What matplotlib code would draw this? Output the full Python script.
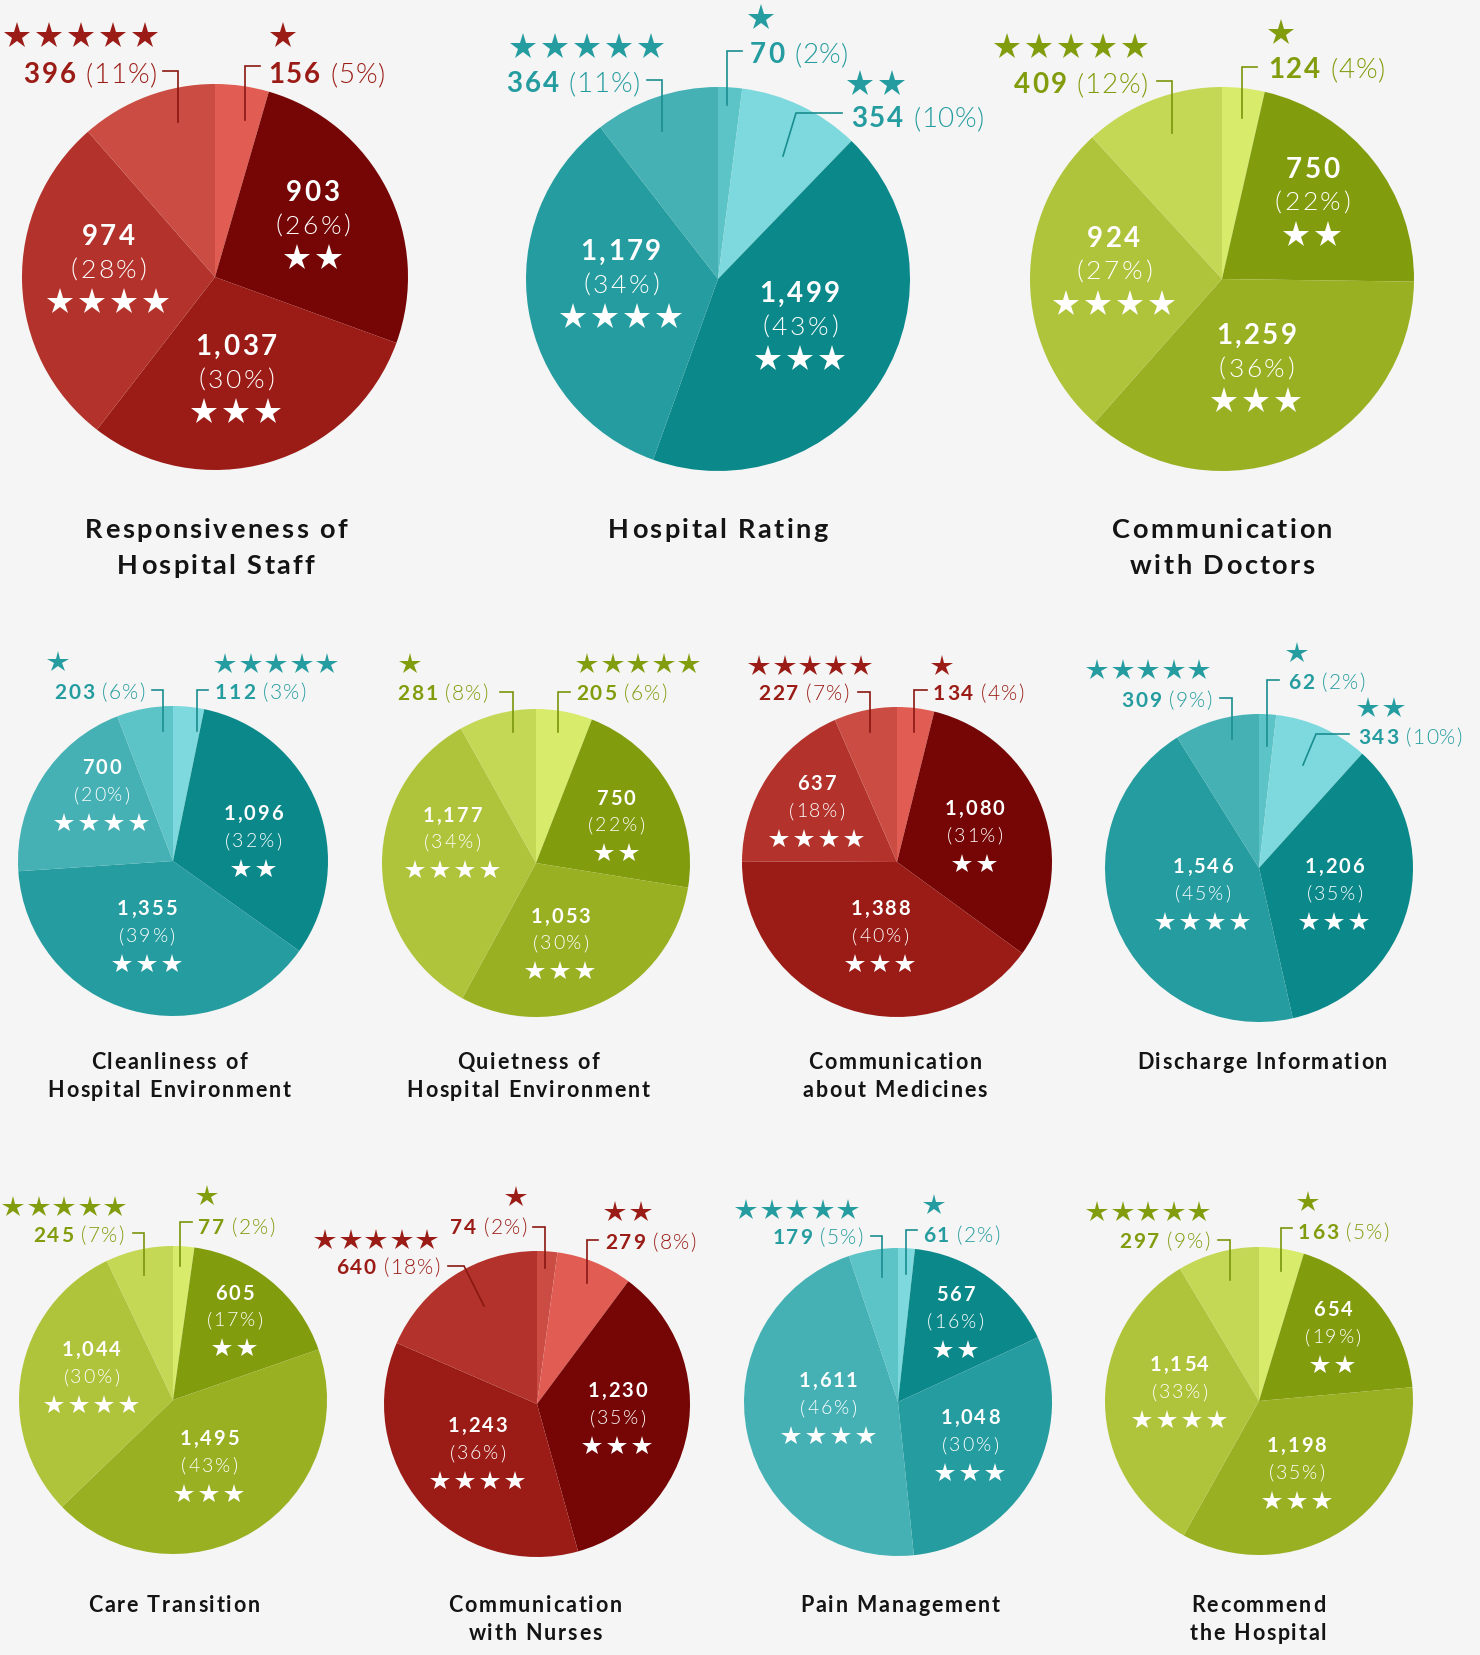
import matplotlib
matplotlib.use("Agg")
import matplotlib.pyplot as plt
from matplotlib import font_manager as fm
from matplotlib.ft2font import FT2Font
import numpy as np

W, H = 1480, 1656
BG = "#f4f5f4"
FONT = "Lato"

# ---------------- data (counts per slice, clockwise from 12 o'clock) ----------------
responsiveness = [156, 903, 1037, 974, 396]
hospital_rating = [70, 354, 1499, 1179, 364]
comm_doctors = [124, 750, 1259, 924, 409]
cleanliness = [112, 1096, 1355, 700, 203]
quietness = [205, 750, 1053, 1177, 281]
comm_medicines = [134, 1080, 1388, 637, 227]
discharge = [62, 343, 1206, 1546, 309]
care_transition = [77, 605, 1495, 1044, 245]
comm_nurses = [74, 279, 1230, 1243, 640]
pain_mgmt = [61, 567, 1048, 1611, 179]
recommend = [163, 654, 1198, 1154, 297]

# number of stars shown with each slice's label
stars_std = [1, 2, 3, 4, 5]
stars_swapped = [5, 2, 3, 4, 1]

titles = [
    ["Responsiveness of", "Hospital Staff"],
    ["Hospital Rating"],
    ["Communication", "with Doctors"],
    ["Cleanliness of", "Hospital Environment"],
    ["Quietness of", "Hospital Environment"],
    ["Communication", "about Medicines"],
    ["Discharge Information"],
    ["Care Transition"],
    ["Communication", "with Nurses"],
    ["Pain Management"],
    ["Recommend", "the Hospital"],
]

# ---------------- styles ----------------
RED = dict(text="#9b1c16", line="#8a1712",
           c=dict(L="#e15d54", D="#760505", M="#9b1c16", B="#b3332c", S="#cb4c42"))
TEAL = dict(text="#259c9f", line="#1a8d90",
            c=dict(L="#5cc3c6", D="#7dd9dd", M="#0b888a", B="#259c9f", S="#45b1b4"))
GREEN = dict(text="#819c0c", line="#7a950c",
             c=dict(L="#d9eb6a", D="#819c0c", M="#9ab023", B="#b0c43b", S="#c4d855"))

# layout: pie centre/radius in pixels, title position, outer label specs
# outer spec: (slice, text_x, text_y, align, first_star_x, star_y, leader points)
# nudge: small manual offsets (px) of inner labels
charts = [
    dict(vals=responsiveness, stars=stars_std, pal=RED, order="LDMBS", cx=215, cy=278, r=193, big=True,
         tx=216, ty=528, nudge={1: (0, -4), 2: (-8, 0), 3: (0, -13)},
         outer=[(4, 157, 73, "right", 17, 37, [(163, 72), (178, 72), (178, 123)]),
                (0, 268, 73, "left", 283, 37, [(260, 67), (245, 67), (245, 121)])]),
    dict(vals=hospital_rating, stars=stars_std, pal=TEAL, order="LDMBS", cx=718, cy=280, r=192, big=True,
         tx=718, ty=528, nudge={2: (9, 0), 3: (0, -12)},
         outer=[(4, 640, 82, "right", 523, 48, [(647, 81), (662, 81), (662, 132)]),
                (0, 750, 53, "left", 761, 19, [(742, 52), (727, 52), (727, 106)]),
                (1, 851, 117, "left", 860, 85, [(842, 114), (796, 114), (783, 157)])]),
    dict(vals=comm_doctors, stars=stars_std, pal=GREEN, order="LDMBS", cx=1222, cy=280, r=192, big=True,
         tx=1222, ty=528, nudge={1: (0, -8), 2: (-4, 0), 3: (0, -11)},
         outer=[(4, 1148, 83, "right", 1007, 48, [(1157, 82), (1172, 82), (1172, 134)]),
                (0, 1268, 68, "left", 1281, 34, [(1257, 68), (1242, 68), (1242, 119)])]),
    dict(vals=cleanliness, stars=stars_swapped, pal=TEAL, order="DMBSL", cx=173, cy=862, r=155, big=False,
         tx=169, ty=1061, nudge={1: (4, 8), 2: (-6, 2), 3: (8, -17)},
         outer=[(4, 145, 692, "right", 58, 663, [(152, 691), (163, 691), (163, 732)]),
                (0, 215, 692, "left", 225, 665, [(208, 691), (197, 691), (197, 732)])]),
    dict(vals=quietness, stars=stars_swapped, pal=GREEN, order="LDMBS", cx=536, cy=864, r=154, big=False,
         tx=528, ty=1061, nudge={1: (0, 6), 2: (-12, 4), 3: (-5, -23)},
         outer=[(4, 488, 693, "right", 410, 665, [(500, 693), (513, 693), (513, 733)]),
                (0, 576, 693, "left", 587, 665, [(570, 693), (558, 693), (558, 733)])]),
    dict(vals=comm_medicines, stars=stars_std, pal=RED, order="LDMBS", cx=897, cy=863, r=155, big=False,
         tx=895, ty=1061, nudge={2: (6, 3)},
         outer=[(4, 849, 693, "right", 759, 667, [(858, 693), (870, 693), (870, 733)]),
                (0, 933, 693, "left", 942, 667, [(927, 691), (914, 691), (914, 733)])]),
    dict(vals=discharge, stars=stars_std, pal=TEAL, order="LDMBS", cx=1259, cy=869, r=154, big=False,
         tx=1262, ty=1061, nudge={2: (0, 4), 3: (6, -2)},
         outer=[(4, 1212, 700, "right", 1097, 671, [(1220, 699), (1232, 699), (1232, 740)]),
                (0, 1288, 682, "left", 1297, 654, [(1279, 681), (1267, 681), (1267, 747)]),
                (1, 1358, 737, "left", 1368, 709, [(1349, 735), (1316, 735), (1303, 766)])]),
    dict(vals=care_transition, stars=stars_std, pal=GREEN, order="LDMBS", cx=173, cy=1401, r=154, big=False,
         tx=174, ty=1604, nudge={1: (0, -7), 2: (0, 5), 3: (0, -10)},
         outer=[(4, 124, 1235, "right", 13, 1208, [(133, 1234), (144, 1234), (144, 1276)]),
                (0, 198, 1227, "left", 207, 1197, [(192, 1223), (180, 1223), (180, 1267)])]),
    dict(vals=comm_nurses, stars=stars_std, pal=RED, order="SLDMB", cx=537, cy=1405, r=153, big=False,
         tx=535, ty=1604, nudge={2: (5, -2), 3: (-2, -3)},
         outer=[(4, 440, 1267, "right", 325, 1241, [(448, 1267), (464, 1267), (484, 1307)]),
                (0, 527, 1227, "right", 516, 1198, [(533, 1228), (545, 1228), (545, 1269)]),
                (1, 605, 1242, "left", 615, 1213, [(598, 1241), (587, 1241), (587, 1284)])]),
    dict(vals=pain_mgmt, stars=stars_std, pal=TEAL, order="DMBSL", cx=898, cy=1403, r=154, big=False,
         tx=900, ty=1604, nudge={1: (0, -3), 3: (-6, -10)},
         outer=[(4, 863, 1237, "right", 746, 1211, [(871, 1237), (882, 1237), (882, 1278)]),
                (0, 923, 1235, "left", 934, 1206, [(917, 1231), (906, 1231), (906, 1275)])]),
    dict(vals=recommend, stars=stars_std, pal=GREEN, order="LDMBS", cx=1259, cy=1402, r=154, big=False,
         tx=1258, ty=1604, nudge={1: (0, -6), 2: (-5, 4), 3: (0, -12)},
         outer=[(4, 1210, 1241, "right", 1097, 1213, [(1218, 1241), (1230, 1241), (1230, 1281)]),
                (0, 1298, 1232, "left", 1308, 1203, [(1292, 1229), (1281, 1229), (1281, 1272)])]),
]

PT = 72 / 100.0  # points per pixel


def px(pt):
    return pt / PT


fig = plt.figure(figsize=(W / 100, H / 100), dpi=100, facecolor=BG)
ax = fig.add_axes([0, 0, 1, 1])
ax.set_facecolor(BG)

_fonts = {}


def advances(s, weight, size):
    fp = fm.FontProperties(family=FONT, weight=weight, size=size)
    path = fm.findfont(fp)
    if path not in _fonts:
        _fonts[path] = FT2Font(path)
    f = _fonts[path]
    f.set_size(size, 100)
    out = []
    for c in s:
        g = f.load_char(ord(c))
        out.append(g.linearHoriAdvance / 65536.0)
    return out


def text_width(s, weight, size, track):
    a = advances(s, weight, size)
    return sum(a) + track * (len(s) - 1)


def ttext(x, ymid, s, ha, size, weight, color, track, zorder=6):
    """Letter-spaced text; ymid = vertical centre of cap height (pixels)."""
    a = advances(s, weight, size)
    total = sum(a) + track * (len(s) - 1)
    if ha == "left":
        x0 = x
    elif ha == "right":
        x0 = x - total
    else:
        x0 = x - total / 2.0
    base = ymid + 0.36 * px(size)
    cx = x0
    for c, w in zip(s, a):
        if c != " ":
            ax.text(cx, base, c, ha="left", va="baseline", fontsize=size, fontweight=weight,
                    family=FONT, color=color, zorder=zorder)
        cx += w + track
    return total


def draw_stars(x0, y, n, spacing, ms, color, centered=False):
    xs = x0 + spacing * np.arange(n)
    if centered:
        xs = xs - spacing * (n - 1) / 2.0
    ax.plot(xs, np.full(n, y), ls="none", marker="*", ms=ms, mew=0, color=color, zorder=5)


for ch in charts:
    vals = np.array(ch["vals"], dtype=float)
    total = vals.sum()
    pcts = [int(round(v / total * 100 + 1e-9)) for v in vals]
    cols = [ch["pal"]["c"][k] for k in ch["order"]]
    cx, cy, r = ch["cx"], ch["cy"], ch["r"]
    ax.pie(vals, colors=cols, startangle=-90, counterclock=True, radius=r, center=(cx, cy),
           wedgeprops=dict(linewidth=0))

    big = ch["big"]
    fs_num = 20 if big else 14.5
    fs_pct = 19 if big else 14
    tr_num = 2.5 if big else 2.0
    tr_pct = 2.6 if big else 2.0
    ms_in = 19.5 if big else 15
    sp_in = 32 if big else 25
    dy_num = 33 if big else 27
    dy_star = 35 if big else 30

    fs_out = 20 if big else 15
    tr_out_n = 2.0 if big else 1.8
    tr_out_p = 0.8 if big else 1.2
    ms_out = 20.4 if big else 16
    sp_out = 32 if big else 25.5
    gap = 10 if big else 8

    cum = np.concatenate([[0], np.cumsum(vals)])
    outer_idx = [o[0] for o in ch["outer"]]
    for i, v in enumerate(vals):
        if i in outer_idx:
            continue
        frac = v / total
        phi = np.deg2rad(360 * (cum[i] + v / 2) / total)
        d = r * (0.75 - 0.7 * frac)
        ndx, ndy = ch["nudge"].get(i, (0, 0))
        x = cx + d * np.sin(phi) + ndx
        y = cy - d * np.cos(phi) + ndy
        ttext(x, y - dy_num, f"{int(v):,}", "center", fs_num, "bold", "white", tr_num)
        ttext(x, y, f"({pcts[i]}%)", "center", fs_pct, 300, "white", tr_pct)
        draw_stars(x, y + dy_star, ch["stars"][i], sp_in, ms_in, "white", centered=True)

    tc = ch["pal"]["text"]
    for (i, tx, ty, ha, sx, sy, pts) in ch["outer"]:
        num = f"{int(vals[i]):,}"
        pct = f"({pcts[i]}%)"
        wn = text_width(num, "bold", fs_out, tr_out_n)
        wp = text_width(pct, 300, fs_out, tr_out_p)
        if ha == "left":
            ttext(tx, ty, num, "left", fs_out, "bold", tc, tr_out_n)
            ttext(tx + wn + gap, ty, pct, "left", fs_out, 300, tc, tr_out_p)
        else:
            ttext(tx, ty, pct, "right", fs_out, 300, tc, tr_out_p)
            ttext(tx - wp - gap, ty, num, "right", fs_out, "bold", tc, tr_out_n)
        draw_stars(sx, sy, ch["stars"][i], sp_out, ms_out, tc)
        lx = [p[0] for p in pts]
        ly = [p[1] for p in pts]
        ax.plot(lx, ly, color=ch["pal"]["line"], lw=1.2, solid_joinstyle="miter", zorder=4)

# titles
for ch, tl in zip(charts, titles):
    fs_t = 19.5 if ch["big"] else 15.5
    tr_t = 2.4 if ch["big"] else 1.8
    lsp = 36 if ch["big"] else 28
    for k, line in enumerate(tl):
        ttext(ch["tx"], ch["ty"] + k * lsp, line, "center", fs_t, "bold", "#141414", tr_t)

ax.set_xlim(0, W)
ax.set_ylim(H, 0)
ax.set_aspect("auto")
ax.axis("off")
fig.savefig("out.png", dpi=100, facecolor=BG)
